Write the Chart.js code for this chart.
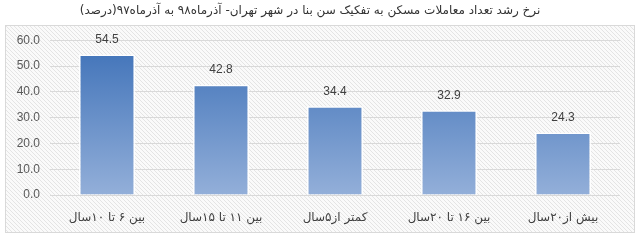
<!DOCTYPE html>
<html>
<head>
<meta charset="utf-8">
<script src="https://cdn.jsdelivr.net/npm/chart.js@4"></script>
<style>
  html, body { margin: 0; padding: 0; background: #ffffff; }
  #wrap { width: 640px; height: 241px; }
</style>
</head>
<body>
<div id="wrap"><canvas id="myChart" width="640" height="241"></canvas></div>
<script>
// Données du graphique
const categories = ['بین ۶ تا ۱۰سال', 'بین ۱۱ تا ۱۵سال', 'کمتر از۵سال', 'بین ۱۶ تا ۲۰سال', 'بیش از۲۰سال'];
const values = [54.5, 42.8, 34.4, 32.9, 24.3];
const yTicks = [0, 10, 20, 30, 40, 50, 60];
const chartTitle = 'نرخ رشد تعداد معاملات مسکن به تفکیک سن بنا در شهر تهران- آذرماه۹۸ به آذرماه۹۷(درصد)';

const persianFont = "'DejaVu Sans', sans-serif";

// Fond hachuré du cadre
function hatchPattern(ctx) {
    const c = document.createElement('canvas');
    c.width = 4; c.height = 4;
    const p = c.getContext('2d');
    p.fillStyle = '#fafafa';
    p.fillRect(0, 0, 4, 4);
    p.strokeStyle = '#e4e4e4';
    p.lineWidth = 1;
    p.beginPath();
    p.moveTo(0, 0); p.lineTo(4, 4);
    p.moveTo(-1, 3); p.lineTo(1, 5);
    p.moveTo(3, -1); p.lineTo(5, 1);
    p.stroke();
    return ctx.createPattern(c, 'repeat');
}

const frame = {
    id: 'frame',
    beforeDraw(chart) {
        const ctx = chart.ctx;
        ctx.save();
        ctx.fillStyle = hatchPattern(ctx);
        ctx.fillRect(5, 25, 629, 207);
        ctx.strokeStyle = '#d9d9d9';
        ctx.lineWidth = 1;
        ctx.strokeRect(5.5, 25.5, 629, 207);
        ctx.restore();
    }
};

// Étiquettes de valeurs au-dessus des barres
const valueLabels = {
    id: 'valueLabels',
    afterDatasetsDraw(chart) {
        const ctx = chart.ctx;
        const meta = chart.getDatasetMeta(0);
        ctx.save();
        ctx.fillStyle = '#404040';
        ctx.font = "12px 'Liberation Sans', Arial, sans-serif";
        ctx.textAlign = 'center';
        ctx.textBaseline = 'middle';
        meta.data.forEach((bar, i) => {
            ctx.fillText(values[i].toFixed(1), bar.x, bar.y - 15);
        });
        ctx.restore();
    }
};

const ctx = document.getElementById('myChart');
new Chart(ctx, {
    type: 'bar',
    data: {
        labels: categories,
        datasets: [{
            data: values,
            backgroundColor: (c) => {
                const area = c.chart.chartArea;
                if (!area) return '#5b87c5';
                const g = c.chart.ctx.createLinearGradient(0, area.top + 15, 0, area.bottom);
                g.addColorStop(0, '#4677bb');
                g.addColorStop(1, '#93afd9');
                return g;
            },
            borderColor: '#ffffff',
            borderWidth: 1.5,
            categoryPercentage: 1,
            barPercentage: 0.49
        }]
    },
    options: {
        responsive: false,
        animation: false,
        layout: { padding: { left: 0, right: 20, top: 0, bottom: 0 } },
        plugins: {
            legend: { display: false },
            tooltip: { enabled: false },
            title: {
                display: true,
                text: chartTitle,
                color: '#333333',
                font: { family: persianFont, size: 12, weight: 'normal' },
                padding: { top: 4, bottom: 22 }
            }
        },
        scales: {
            x: {
                grid: { display: false, drawTicks: false },
                border: { display: false },
                ticks: {
                    color: '#404040',
                    font: { family: persianFont, size: 12 },
                    padding: 16,
                    maxRotation: 0
                },
                afterFit(scale) { scale.height = 46; }
            },
            y: {
                min: 0,
                max: 60,
                afterBuildTicks(scale) { scale.ticks = yTicks.map(v => ({ value: v })); },
                grid: { color: '#d9d9d9', drawTicks: false },
                border: { display: false },
                ticks: {
                    color: '#595959',
                    font: { family: "'Liberation Sans', Arial, sans-serif", size: 12 },
                    padding: 10,
                    callback: (v) => v.toFixed(1)
                },
                afterFit(scale) { scale.width = 50; }
            }
        }
    },
    plugins: [frame, valueLabels]
});
</script>
</body>
</html>
